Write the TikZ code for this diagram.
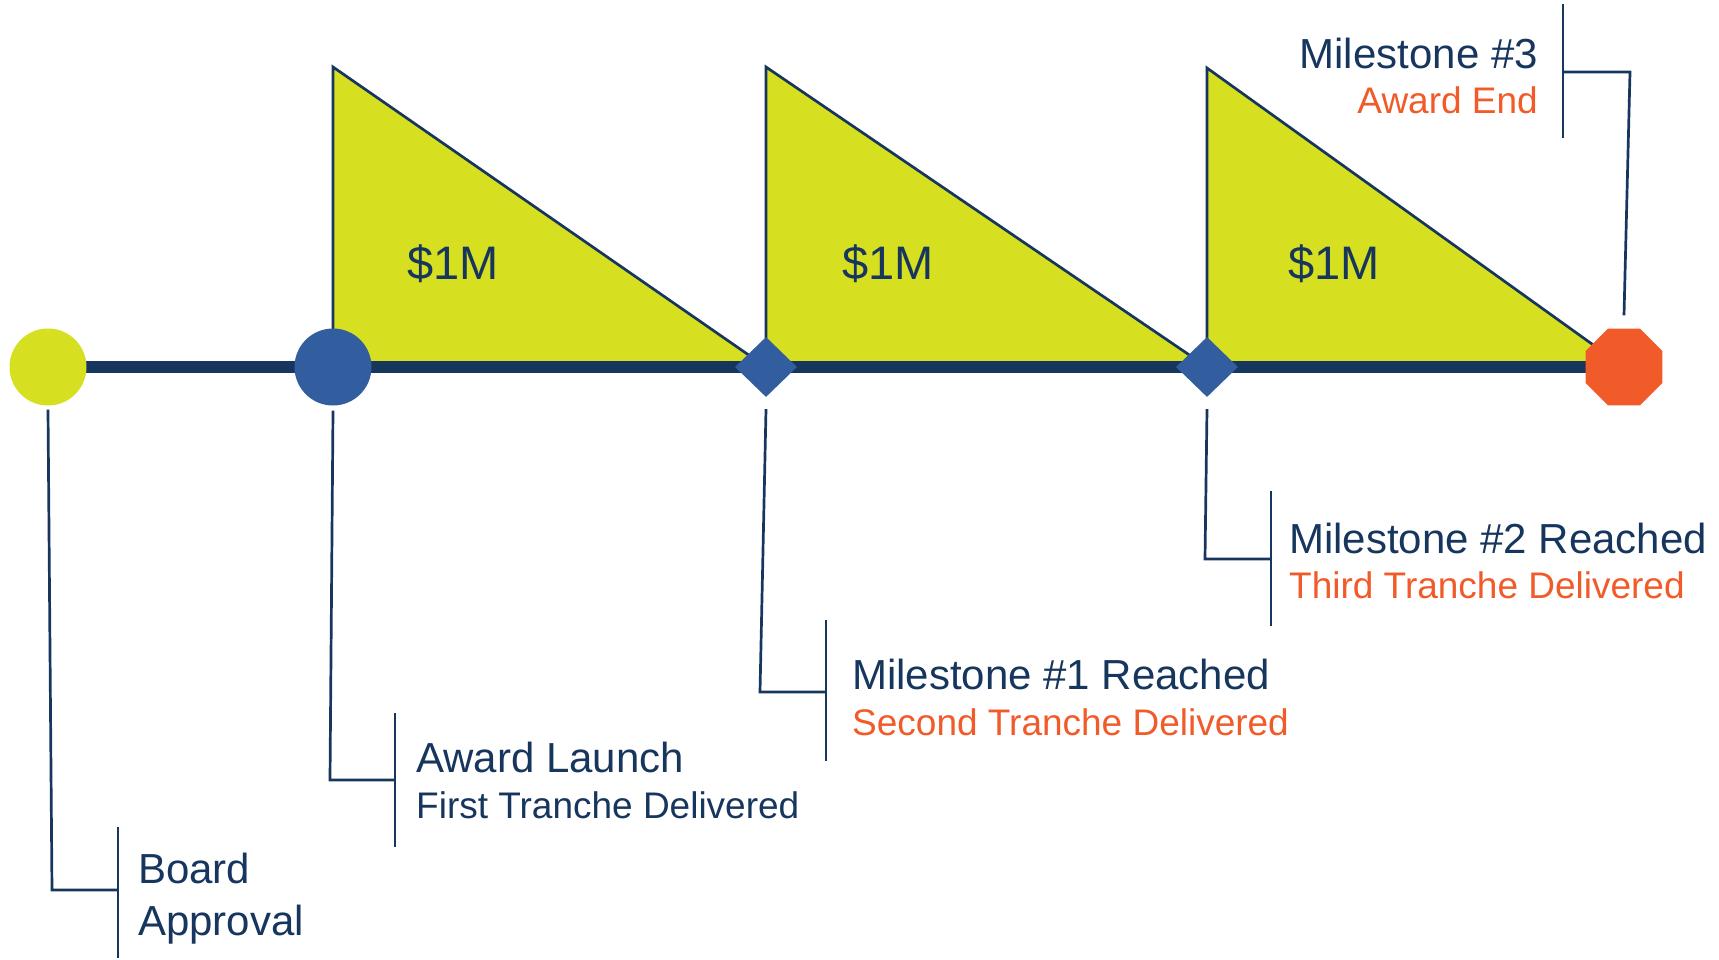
\documentclass[tikz,border=0pt]{standalone}
\usepackage{fontspec}
\setmainfont{Liberation Sans}
\usetikzlibrary{shapes.geometric}
\definecolor{navy}{HTML}{17365D}
\definecolor{lime}{HTML}{D7DF21}
\definecolor{midblue}{HTML}{325E9F}
\definecolor{orangered}{HTML}{F15A29}
\begin{document}
\begin{tikzpicture}[x=1pt,y=-1pt,
  conn/.style={draw=navy,line width=2.7pt},
  tri/.style={fill=lime,draw=navy,line width=2.7pt,line join=miter},
  bar/.style={draw=navy,line width=12pt},
  mainlbl/.style={font=\fontsize{42}{48}\selectfont,text=navy,inner sep=0pt},
  sublbl/.style={font=\fontsize{37}{42}\selectfont,text=navy,inner sep=0pt},
  orglbl/.style={font=\fontsize{37}{42}\selectfont,text=orangered,inner sep=0pt},
  money/.style={font=\fontsize{47}{52}\selectfont,text=navy,inner sep=0pt,anchor=base west},
  dot/.style={circle,minimum size=77pt,inner sep=0pt},
  gem/.style={diamond,fill=midblue,minimum width=62pt,minimum height=60pt,inner sep=0pt},
  stop/.style={regular polygon,regular polygon sides=8,fill=orangered,minimum size=83.3pt,inner sep=0pt}
]
\useasboundingbox (0,0) rectangle (1719,959);
% timeline positions
\coordinate (p0) at (48,367);
\coordinate (p1) at (333,367);
\coordinate (p2) at (766,367);
\coordinate (p3) at (1207,367);
\coordinate (p4) at (1624,367);
% tranche triangles
\draw[tri] (p1) -- ++(0,-300) -- (p2) -- cycle;
\draw[tri] (p2) -- ++(0,-300) -- (p3) -- cycle;
\draw[tri] (p3) -- ++(0,-299) -- (p4) -- cycle;
% bar
\draw[bar] (p0) -- (p4);
% markers
\node[dot,fill=lime] (board) at (p0) {};
\node[dot,fill=midblue] (launch) at (p1) {};
\node[gem] (ms1) at (p2) {};
\node[gem] (ms2) at (p3) {};
\node[stop] (ms3) at (p4) {};
% money labels
\node[money] (m1) at (407,279) {\$1M};
\node[money] (m2) at (842,279) {\$1M};
\node[money] (m3) at (1288,279) {\$1M};
% bracket coordinates
\coordinate (bA) at (118,827); \coordinate (bB) at (118,958); \coordinate (bJ) at (118,890);
\coordinate (lA) at (395,713); \coordinate (lB) at (395,847); \coordinate (lJ) at (395,780);
\coordinate (aA) at (826,620); \coordinate (aB) at (826,761); \coordinate (aJ) at (826,692);
\coordinate (cA) at (1271,491); \coordinate (cB) at (1271,626); \coordinate (cJ) at (1271,559);
\coordinate (eA) at (1563,4); \coordinate (eB) at (1563,138); \coordinate (eJ) at (1563,72);
% connectors
\draw[conn] ([yshift=-4pt]board.south) -- (52,890) -- (bJ);
\draw[conn] (bA) -- (bB);
\draw[conn] ([yshift=-5pt]launch.south) -- (330,780) -- (lJ);
\draw[conn] (lA) -- (lB);
\draw[conn] ([yshift=-12pt]ms1.south) -- (760,692) -- (aJ);
\draw[conn] (aA) -- (aB);
\draw[conn] ([yshift=-12pt]ms2.south) -- (1205,559) -- (cJ);
\draw[conn] (cA) -- (cB);
\draw[conn] ([yshift=13pt]ms3.north) -- (1630,72) -- (eJ);
\draw[conn] (eA) -- (eB);
% labels
\node[mainlbl,anchor=base west] (t1) at (138,883) {Board};
\node[mainlbl,anchor=base west] (t1b) at (138,935) {Approval};
\node[mainlbl,anchor=base west] (t2) at (416,772) {Award Launch};
\node[sublbl,anchor=base west] (t2b) at (416,818) {First Tranche Delivered};
\node[mainlbl,anchor=base west] (t3) at (852,689) {Milestone \#1 Reached};
\node[orglbl,anchor=base west] (t3b) at (852,735) {Second Tranche Delivered};
\node[mainlbl,anchor=base west] (t4) at (1289,553) {Milestone \#2 Reached};
\node[orglbl,anchor=base west] (t4b) at (1289,598) {Third Tranche Delivered};
\node[mainlbl,anchor=base east] (t5) at (1538,68) {Milestone \#3};
\node[orglbl,anchor=base east] (t5b) at (1538,113) {Award End};
\end{tikzpicture}
\end{document}
